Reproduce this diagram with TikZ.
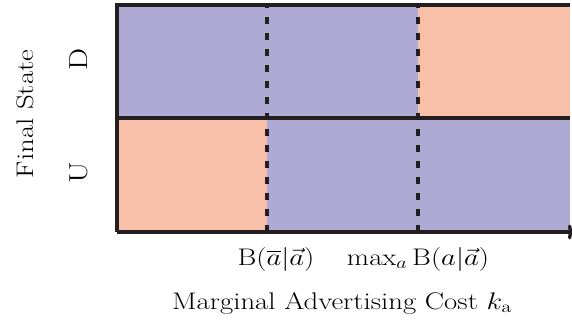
\documentclass[tikz,border=0pt]{standalone}
\usepackage{fix-cm}
\usepackage{amsmath}
\usetikzlibrary{arrows.meta}
\definecolor{regionblue}{RGB}{175,170,212}
\definecolor{regionsalmon}{RGB}{248,192,168}
\definecolor{inkdark}{RGB}{35,31,32}
% labels are set a little wide along their baseline
\newcommand{\widetext}[1]{\scalebox{1.2}[1]{#1}}
\begin{document}
\begin{tikzpicture}[x=1pt,y=1pt,
  border/.style={draw=inkdark,line width=3.4pt},
  threshold/.style={draw=inkdark,line width=3.4pt,dash pattern=on 7pt off 9pt},
  lbl/.style={inner sep=0pt,anchor=base,font=\fontsize{24}{28}\selectfont},
  vlbl/.style={inner sep=0pt,anchor=base,rotate=90,font=\fontsize{24}{28}\selectfont},
  statelbl/.style={vlbl,font=\fontsize{26}{30}\selectfont}]
\useasboundingbox (0,0) rectangle (572,322);
% corner points of the state grid
\coordinate (bl) at (117,90);
\coordinate (ml) at (117,204);
\coordinate (tl) at (117,317);
\coordinate (br) at (570,90);
\coordinate (mr) at (570,204);
\coordinate (tr) at (570,317);
\coordinate (t1b) at (267,90);
\coordinate (t1t) at (267,317);
\coordinate (t2b) at (418,90);
\coordinate (t2t) at (418,317);
\coordinate (axend) at (573,90);
% coloured regions
\fill[regionblue] (ml) rectangle (t2t);
\fill[regionsalmon] (t2b |- ml) rectangle (tr);
\fill[regionsalmon] (bl) rectangle (t1b |- ml);
\fill[regionblue] (t1b) rectangle (mr);
% thresholds
\draw[threshold] (t1b) -- (t1t);
\draw[threshold] (t2b) -- (t2t);
% frame and axis
\draw[border] (tr) -- (tl) -- (bl);
\draw[border] (ml) -- (mr);
\draw[border,-{To[length=5pt,width=15pt]}] (bl) -- (axend);
% labels
\node[statelbl] (d) at (87,263) {\widetext{D}};
\node[statelbl] (u) at (87,149) {\widetext{U}};
\node[vlbl] (fs) at (33,208) {\widetext{Final State}};
\node[lbl] (b1) at (276,57) {\widetext{$\mathrm{B}(\overline{a}|\vec{a})$}};
\node[lbl] (b2) at (418,57) {\widetext{$\max_a \mathrm{B}(a|\vec{a})$}};
\node[lbl] (xl) at (342,13) {\widetext{Marginal Advertising Cost $k_{\mathrm{a}}$}};
\end{tikzpicture}
\end{document}
